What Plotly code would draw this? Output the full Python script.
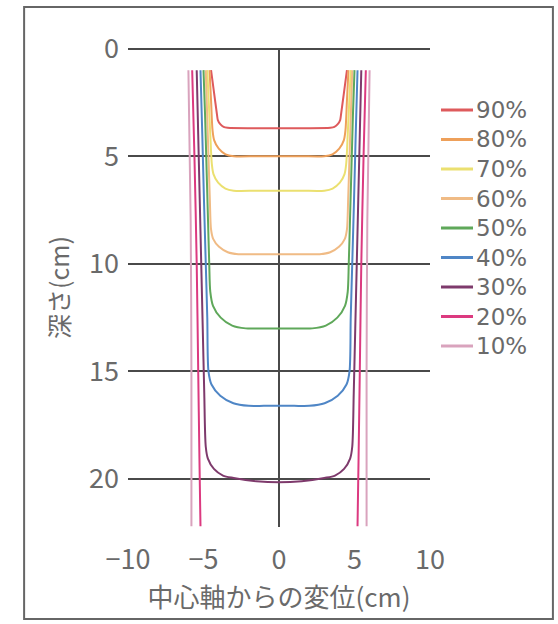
import plotly.graph_objects as go

# Isodose curves: lateral offset (cm) and depth (cm) for each dose level
levels = ["90%", "80%", "70%", "60%", "50%", "40%", "30%", "20%", "10%"]
colors = ["#de5a5c", "#eea05a", "#ebe070", "#f0bb85", "#5fa85a",
          "#4f86c6", "#7e3a6c", "#dc3a80", "#d9a3bd"]

x90 = [-4.5, -4.3, -4.1, -4.05, -3.89, -3.67, -3.4, -1.7, 0.0,
       1.7, 3.4, 3.67, 3.89, 4.05, 4.1, 4.3, 4.5]
d90 = [1.0, 2.05, 3.1, 3.32, 3.51, 3.64, 3.68, 3.7, 3.7,
       3.7, 3.68, 3.64, 3.51, 3.32, 3.1, 2.05, 1.0]

x80 = [-4.6, -4.5, -4.4, -4.29, -3.99, -3.54, -3.0, -1.5, 0.0,
       1.5, 3.0, 3.54, 3.99, 4.29, 4.4, 4.5, 4.6]
d80 = [1.0, 2.4, 3.8, 4.26, 4.65, 4.91, 5.0, 5.0, 5.0,
       5.0, 5.0, 4.91, 4.65, 4.26, 3.8, 2.4, 1.0]

x70 = [-4.75, -4.65, -4.55, -4.45, -4.34, -4.03, -3.55, -3.0, -1.5, 0.0,
       1.5, 3.0, 3.55, 4.03, 4.34, 4.45, 4.55, 4.65, 4.75]
d70 = [1.0, 2.5, 4.0, 5.35, 5.83, 6.23, 6.5, 6.6, 6.6, 6.6,
       6.6, 6.6, 6.5, 6.23, 5.83, 5.35, 4.0, 2.5, 1.0]

x60 = [-4.85, -4.76, -4.67, -4.58, -4.5, -4.36, -3.97, -3.39, -2.7, -1.35, 0.0,
       1.35, 2.7, 3.39, 3.97, 4.36, 4.5, 4.58, 4.67, 4.76, 4.85]
d60 = [1.0, 3.0, 5.0, 7.0, 8.4, 8.84, 9.21, 9.46, 9.55, 9.55, 9.55,
       9.55, 9.55, 9.46, 9.21, 8.84, 8.4, 7.0, 5.0, 3.0, 1.0]

x50 = [-5.0, -4.9, -4.8, -4.7, -4.62, -4.55, -4.37, -3.86, -3.1, -2.2, -1.1, 0.0,
       1.1, 2.2, 3.1, 3.86, 4.37, 4.55, 4.62, 4.7, 4.8, 4.9, 5.0]
d50 = [1.0, 3.0, 5.5, 8.0, 10.0, 11.3, 11.95, 12.5, 12.87, 13.0, 13.0, 13.0,
       13.0, 13.0, 12.87, 12.5, 11.95, 11.3, 10.0, 8.0, 5.5, 3.0, 1.0]

x40 = [-5.2, -5.08, -4.97, -4.85, -4.75, -4.67, -4.47, -3.89, -3.02, -2.0, -1.0, 0.0,
       1.0, 2.0, 3.02, 3.89, 4.47, 4.67, 4.75, 4.85, 4.97, 5.08, 5.2]
d40 = [1.0, 4.0, 7.0, 10.0, 12.5, 15.0, 15.61, 16.13, 16.48, 16.6, 16.6, 16.6,
       16.6, 16.6, 16.48, 16.13, 15.61, 15.0, 12.5, 10.0, 7.0, 4.0, 1.0]

x30 = [-5.45, -5.35, -5.25, -5.15, -5.05, -4.95, -4.85, -4.71, -4.31, -3.71,
       -3.0, -1.5, 0.0, 1.5, 3.0,
       3.71, 4.31, 4.71, 4.85, 4.95, 5.05, 5.15, 5.25, 5.35, 5.45]
d30 = [1.0, 4.0, 7.0, 10.0, 13.0, 16.0, 18.5, 19.05, 19.53, 19.84,
       19.95, 20.1, 20.15, 20.1, 19.95,
       19.84, 19.53, 19.05, 18.5, 16.0, 13.0, 10.0, 7.0, 4.0, 1.0]

x20 = [-5.75, -5.6, -5.45, -5.35, -5.27, -5.2, None,
       5.2, 5.27, 5.35, 5.45, 5.6, 5.75]
d20 = [1.0, 5.0, 10.0, 15.0, 19.0, 22.2, None,
       22.2, 19.0, 15.0, 10.0, 5.0, 1.0]

x10 = [-6.0, -5.85, -5.8, -5.8, None, 5.8, 5.8, 5.85, 6.0]
d10 = [1.0, 8.0, 15.0, 22.2, None, 22.2, 15.0, 8.0, 1.0]

xs = [x90, x80, x70, x60, x50, x40, x30, x20, x10]
ds = [d90, d80, d70, d60, d50, d40, d30, d20, d10]

x_ticks = [-10, -5, 0, 5, 10]
y_ticks = [0, 5, 10, 15, 20]

FONT = "Noto Sans CJK JP"
KEY_FONT = "DejaVu Sans"
TEXT = "#6a6a6a"
GRID = "#4a4a4a"

fig = go.Figure()
for name, c, x, d in zip(levels, colors, xs, ds):
    fig.add_trace(go.Scatter(
        x=x, y=d, mode="lines", name=name, showlegend=False,
        line=dict(color=c, width=2, shape="spline", smoothing=0.8),
        connectgaps=False,
    ))

# key to the dose levels, stacked to the right of the plot
key_top, key_step = 0.8706, 0.0616
for i, (name, c) in enumerate(zip(levels, colors)):
    yk = key_top - i * key_step
    fig.add_shape(type="line", xref="paper", yref="paper",
                  x0=1.0364, x1=1.1424, y0=yk, y1=yk,
                  line=dict(color=c, width=3))
    fig.add_annotation(text=name, xref="paper", yref="paper",
                       x=1.150, y=yk, xanchor="left", yanchor="middle",
                       showarrow=False, borderpad=0,
                       font=dict(size=23, color=TEXT, family=KEY_FONT))

# outer frame of the figure
fig.add_shape(type="rect", xref="paper", yref="paper",
              x0=-0.344, x1=1.407, y0=-0.192, y1=1.0856,
              line=dict(color="#666666", width=2), layer="below")

fig.update_layout(
    width=558, height=624,
    margin=dict(l=128, r=128, t=48, b=97),
    paper_bgcolor="white", plot_bgcolor="white",
    font=dict(family=FONT, color=TEXT),
    showlegend=False,
    xaxis=dict(range=[-10, 10], tickvals=x_ticks, showgrid=False,
               zeroline=True, zerolinecolor=GRID, zerolinewidth=2,
               showline=False, ticks="", ticklabelstandoff=14,
               tickfont=dict(size=27, color=TEXT),
               title=dict(text="中心軸からの変位(cm)", standoff=2,
                          font=dict(size=26, color=TEXT))),
    yaxis=dict(range=[22.23, -0.03], tickvals=y_ticks, showgrid=True,
               gridcolor=GRID, gridwidth=2,
               zeroline=True, zerolinecolor=GRID, zerolinewidth=2,
               showline=False, ticks="", ticklabelstandoff=8,
               tickfont=dict(size=27, color=TEXT),
               title=dict(text="深さ(cm)", standoff=12,
                          font=dict(size=25, color=TEXT))),
)

fig.write_html("out.html")
